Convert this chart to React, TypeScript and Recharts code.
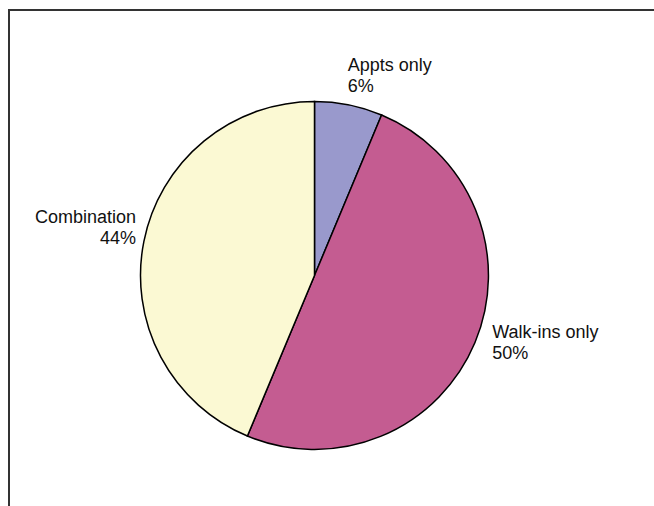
import React from "react";
import { PieChart, Pie, Cell } from "recharts";

const categories = ["Appts only", "Walk-ins only", "Combination"];
const shares = [6.3, 50, 43.7];
const percentLabels = ["6%", "50%", "44%"];

const sliceColors = ["#9999CC", "#C45C91", "#FBF9D3"];
// small nudges for each label, relative to the point beside its slice
const labelNudge = [
  { dx: -3, dy: -24 },
  { dx: 8, dy: -8 },
  { dx: 2, dy: -16 },
];

const data = categories.map((name, i) => ({ name, value: shares[i], pct: percentLabels[i] }));

const RADIAN = Math.PI / 180;

const renderLabel = (props: any) => {
  const { cx, cy, midAngle, outerRadius, index } = props;
  const r = outerRadius + 10;
  const x = cx + r * Math.cos(-midAngle * RADIAN) + labelNudge[index].dx;
  const y = cy + r * Math.sin(-midAngle * RADIAN) + labelNudge[index].dy;
  const anchor = Math.cos(-midAngle * RADIAN) >= 0 ? "start" : "end";
  return (
    <text
      x={x}
      y={y}
      textAnchor={anchor}
      fill="#111"
      fontSize={18}
      fontFamily="'Liberation Sans', Arial, sans-serif"
    >
      <tspan x={x} dy={0}>
        {data[index].name}
      </tspan>
      <tspan x={x} dy={21}>
        {data[index].pct}
      </tspan>
    </text>
  );
};

export default function App() {
  return (
    <div style={{ position: "absolute", left: 0, top: 0, width: 654, height: 506, background: "#fff" }}>
      <div
        style={{
          position: "absolute",
          left: 8,
          top: 9,
          width: 646,
          height: 497,
          borderTop: "2px solid #333",
          borderLeft: "2px solid #333",
          boxSizing: "border-box",
        }}
      />
      <PieChart width={654} height={506} margin={{ top: 0, right: 0, bottom: 0, left: 0 }} style={{ position: "absolute", left: 0, top: 0 }}>
        <Pie
          data={data}
          dataKey="value"
          nameKey="name"
          cx={314.5}
          cy={275.5}
          outerRadius={174}
          startAngle={90}
          endAngle={-270}
          stroke="#000"
          strokeWidth={1.5}
          label={renderLabel}
          labelLine={false}
          isAnimationActive={false}
        >
          {data.map((d, i) => (
            <Cell key={d.name} fill={sliceColors[i]} />
          ))}
        </Pie>
      </PieChart>
    </div>
  );
}
